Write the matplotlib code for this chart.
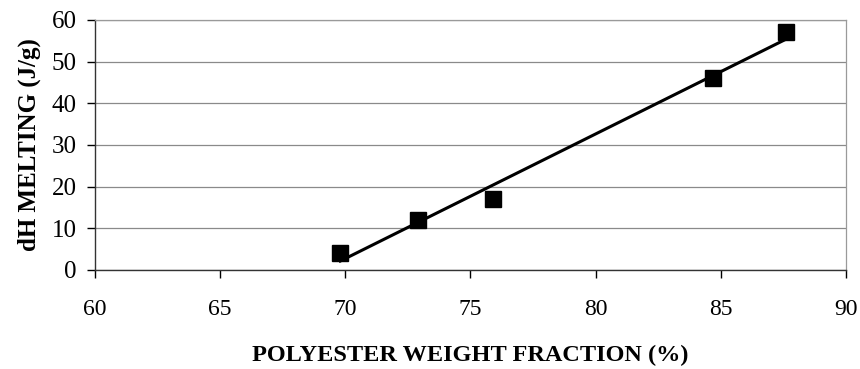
import numpy as np
import matplotlib.pyplot as plt

# polyester weight fraction (%) vs melting enthalpy (J/g)
weight_fraction = [69.8, 72.9, 75.9, 84.7, 87.6]
dh_melting = [4, 12, 17, 46, 57]
x_ticks = [60, 65, 70, 75, 80, 85, 90]
y_ticks = [0, 10, 20, 30, 40, 50, 60]

plt.rcParams['font.family'] = ['Liberation Serif', 'DejaVu Serif']

fig = plt.figure(figsize=(8.6, 3.69), dpi=100, facecolor='w')
ax = fig.add_axes([0.1105, 0.2683, 0.873, 0.6775])

# linear trend over the measured range
slope, icpt = np.polyfit(weight_fraction, dh_melting, 1)
xfit = np.array([min(weight_fraction), max(weight_fraction)])
ax.plot(xfit, slope * xfit + icpt, color='black', lw=2.2, zorder=3)
ax.plot(weight_fraction, dh_melting, 's', color='black', ms=12, zorder=4)

ax.set_xlim(60, 90)
ax.set_ylim(0, 60)
ax.set_xticks(x_ticks)
ax.set_yticks(y_ticks)
ax.grid(axis='y', color='#8a8a8a', lw=0.9)
ax.set_axisbelow(True)

for side in ['top', 'right']:
    ax.spines[side].set_color('#9a9a9a')
    ax.spines[side].set_linewidth(0.9)
for side in ['left', 'bottom']:
    ax.spines[side].set_color('#333333')
    ax.spines[side].set_linewidth(1.0)

ax.tick_params(axis='x', direction='out', length=6, width=1, pad=15, labelsize=17)
ax.tick_params(axis='y', direction='out', length=6, width=1, pad=7, labelsize=18)

ax.set_xlabel('POLYESTER WEIGHT FRACTION (%)', fontsize=17.5, fontweight='bold', labelpad=18)
ax.set_ylabel('dH MELTING (J/g)', fontsize=18, fontweight='bold', labelpad=8)

fig.savefig('out.png', dpi=100)
